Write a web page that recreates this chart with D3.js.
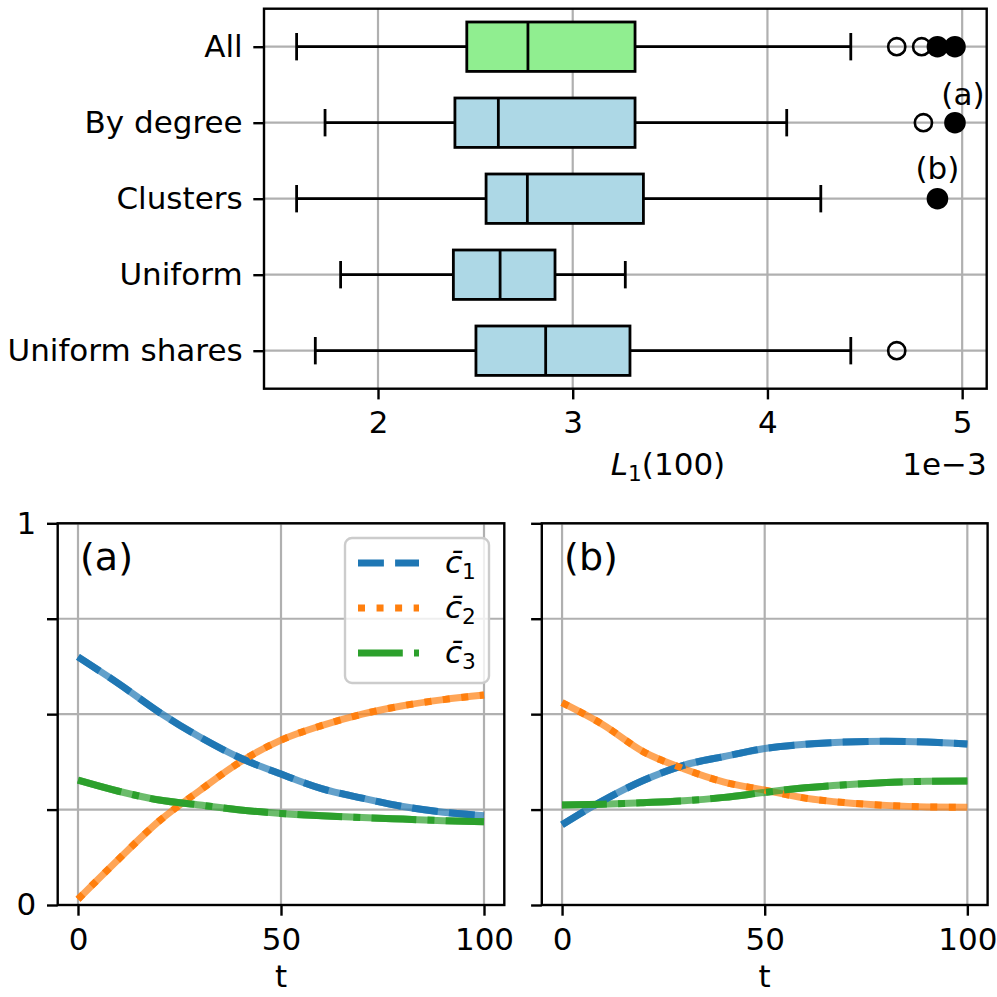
<!DOCTYPE html>
<html>
<head>
<meta charset="utf-8">
<script src="https://cdn.jsdelivr.net/npm/d3@7"></script>
<style>
  body { margin: 0; background: #fff; }
  svg { display: block; }
  text { font-family: "DejaVu Sans", sans-serif; }
</style>
</head>
<body>
<svg id="fig" width="997" height="997"></svg>
<script>
// ---- box plot data (L1(100)) ----
var categories = ["All", "By degree", "Clusters", "Uniform", "Uniform shares"];
var whiskerLo = [1.582e-3, 1.728e-3, 1.582e-3, 1.808e-3, 1.678e-3];
var q1        = [2.456e-3, 2.395e-3, 2.555e-3, 2.387e-3, 2.503e-3];
var medians   = [2.770e-3, 2.618e-3, 2.767e-3, 2.627e-3, 2.861e-3];
var q3        = [3.320e-3, 3.320e-3, 3.363e-3, 2.909e-3, 3.294e-3];
var whiskerHi = [4.428e-3, 4.099e-3, 4.274e-3, 3.270e-3, 4.428e-3];
var fliers    = [[4.664e-3, 4.792e-3], [4.801e-3], [], [], [4.664e-3]];
// the two highlighted runs, shown in "All" and in their own row
var runNames  = ["(a)", "(b)"];
var runValues = [4.963e-3, 4.873e-3];
var runRows   = [1, 2];
var boxTicks  = [2e-3, 3e-3, 4e-3, 5e-3];

// ---- time series (mean shares) ----
var tSteps = [0, 10, 20, 30, 40, 50, 60, 70, 80, 90, 100];
var a_c1 = [0.650, 0.580, 0.505, 0.440, 0.385, 0.343, 0.305, 0.280, 0.258, 0.243, 0.234];
var a_c2 = [0.015, 0.120, 0.220, 0.300, 0.375, 0.432, 0.470, 0.500, 0.522, 0.538, 0.550];
var a_c3 = [0.327, 0.298, 0.275, 0.262, 0.249, 0.240, 0.234, 0.229, 0.225, 0.221, 0.218];
var b_c1 = [0.210, 0.273, 0.326, 0.366, 0.389, 0.410, 0.421, 0.427, 0.429, 0.427, 0.422];
var b_c2 = [0.530, 0.473, 0.402, 0.357, 0.322, 0.301, 0.280, 0.268, 0.261, 0.257, 0.256];
var b_c3 = [0.262, 0.264, 0.268, 0.273, 0.282, 0.295, 0.307, 0.315, 0.321, 0.324, 0.325];
var tTicks = [0, 50, 100];
var shareTicks = [0, 0.25, 0.5, 0.75, 1];
var seriesNames = ["1", "2", "3"];

var colors = ["#1f77b4", "#ff7f0e", "#2ca02c"];
var dashes = ["25.9,11.2", "7,11.55", "44.8,11.2,7,11.2"];
var LW = 7, FS = 31, TICK = 10.7, GRID = "#b0b0b0";

var svg = d3.select("#fig");

function styleAxis(g) {
  g.select(".domain").remove();
  g.selectAll(".tick line").attr("stroke", "#000").attr("stroke-width", 2.4);
  g.selectAll(".tick text").attr("font-size", FS).attr("fill", "#000")
    .attr("font-family", "DejaVu Sans, sans-serif");
}

// ================= top: box plot =================
var B = {l: 264, r: 986.7, t: 8.7, b: 388.7};
var x0 = d3.scaleLinear().domain([1.4145e-3, 5.126e-3]).range([B.l, B.r]);
var y0 = d3.scaleLinear().domain([-0.5, 4.5]).range([B.t, B.b]);
var idx = d3.range(categories.length);
var boxG = svg.append("g");

// grid
boxG.selectAll(".vg").data(boxTicks).enter().append("line")
  .attr("x1", d => x0(d)).attr("x2", d => x0(d)).attr("y1", B.t).attr("y2", B.b)
  .attr("stroke", GRID).attr("stroke-width", 2.2);
boxG.selectAll(".hg").data(idx).enter().append("line")
  .attr("x1", B.l).attr("x2", B.r).attr("y1", d => y0(d)).attr("y2", d => y0(d))
  .attr("stroke", GRID).attr("stroke-width", 2.2);

var boxH = 0.65, capH = 0.18;
var bx = boxG.selectAll(".box").data(idx).enter().append("g");
// whiskers
bx.append("line").attr("x1", d => x0(whiskerLo[d])).attr("x2", d => x0(q1[d]))
  .attr("y1", d => y0(d)).attr("y2", d => y0(d));
bx.append("line").attr("x1", d => x0(q3[d])).attr("x2", d => x0(whiskerHi[d]))
  .attr("y1", d => y0(d)).attr("y2", d => y0(d));
// caps
bx.append("line").attr("x1", d => x0(whiskerLo[d])).attr("x2", d => x0(whiskerLo[d]))
  .attr("y1", d => y0(d - capH)).attr("y2", d => y0(d + capH));
bx.append("line").attr("x1", d => x0(whiskerHi[d])).attr("x2", d => x0(whiskerHi[d]))
  .attr("y1", d => y0(d - capH)).attr("y2", d => y0(d + capH));
// box
bx.append("rect")
  .attr("x", d => x0(q1[d])).attr("width", d => x0(q3[d]) - x0(q1[d]))
  .attr("y", d => y0(d - boxH / 2)).attr("height", d => y0(d + boxH / 2) - y0(d - boxH / 2))
  .attr("fill", d => d === 0 ? "#90ee90" : "#add8e6");
// median
bx.append("line").attr("x1", d => x0(medians[d])).attr("x2", d => x0(medians[d]))
  .attr("y1", d => y0(d - boxH / 2)).attr("y2", d => y0(d + boxH / 2));
bx.selectAll("line,rect").attr("stroke", "#000").attr("stroke-width", 2.8);

// fliers
idx.forEach(function (i) {
  boxG.selectAll(null).data(fliers[i]).enter().append("circle")
    .attr("cx", d => x0(d)).attr("cy", y0(i)).attr("r", 8.6)
    .attr("fill", "none").attr("stroke", "#000").attr("stroke-width", 2.6);
});
// highlighted runs
runValues.forEach(function (v, k) {
  boxG.append("circle").attr("cx", x0(v)).attr("cy", y0(0)).attr("r", 10.8).attr("fill", "#000");
  boxG.append("circle").attr("cx", x0(v)).attr("cy", y0(runRows[k])).attr("r", 10.8).attr("fill", "#000");
});
boxG.append("text").attr("x", x0(runValues[0]) + 8).attr("y", y0(runRows[0]) - 18)
  .attr("text-anchor", "middle").attr("font-size", FS).text(runNames[0]);
boxG.append("text").attr("x", x0(runValues[1])).attr("y", y0(runRows[1]) - 19.5)
  .attr("text-anchor", "middle").attr("font-size", FS).text(runNames[1]);

// axes
boxG.append("g").attr("transform", "translate(0," + B.b + ")")
  .call(d3.axisBottom(x0).tickValues(boxTicks).tickSize(TICK).tickPadding(12)
    .tickFormat(d => d3.format("d")(d * 1e3)))
  .call(styleAxis);
boxG.append("g").attr("transform", "translate(" + B.l + ",0)")
  .call(d3.axisLeft(y0).tickValues(idx).tickSize(TICK).tickPadding(10.7)
    .tickFormat(d => categories[d]))
  .call(styleAxis);
boxG.append("rect").attr("x", B.l).attr("y", B.t).attr("width", B.r - B.l).attr("height", B.b - B.t)
  .attr("fill", "none").attr("stroke", "#000").attr("stroke-width", 2.4);

var xl = boxG.append("text").attr("x", 668).attr("y", 475).attr("text-anchor", "middle").attr("font-size", FS);
xl.append("tspan").attr("font-style", "italic").text("L");
xl.append("tspan").attr("font-size", FS * 0.7).attr("dy", 6).text("1");
xl.append("tspan").attr("dy", -6).text("(100)");
boxG.append("text").attr("x", B.r).attr("y", 475).attr("text-anchor", "end").attr("font-size", FS)
  .text("1e\u22123");

// ================= bottom: time series =================
var panels = [
  {l: 57.7, r: 504.3, name: "(a)", data: [a_c1, a_c2, a_c3], yLabels: true, legend: true},
  {l: 541.8, r: 987.6, name: "(b)", data: [b_c1, b_c2, b_c3], yLabels: false, legend: false}
];
var PT = 523.3, PB = 905;
var y1 = d3.scaleLinear().domain([0, 1]).range([PB, PT]);

panels.forEach(function (p) {
  var x1 = d3.scaleLinear().domain([-5, 105]).range([p.l, p.r]);
  var g = svg.append("g");

  g.selectAll(".vg").data(tTicks).enter().append("line")
    .attr("x1", d => x1(d)).attr("x2", d => x1(d)).attr("y1", PT).attr("y2", PB)
    .attr("stroke", GRID).attr("stroke-width", 2.2);
  g.selectAll(".hg").data(shareTicks).enter().append("line")
    .attr("x1", p.l).attr("x2", p.r).attr("y1", d => y1(d)).attr("y2", d => y1(d))
    .attr("stroke", GRID).attr("stroke-width", 2.2);

  var line = d3.line().x((d, i) => x1(tSteps[i])).y(d => y1(d)).curve(d3.curveMonotoneX);
  p.data.forEach(function (s, k) {
    g.append("path").attr("d", line(s)).attr("fill", "none")
      .attr("stroke", colors[k]).attr("stroke-opacity", 0.7).attr("stroke-width", LW);
  });
  p.data.forEach(function (s, k) {
    g.append("path").attr("d", line(s)).attr("fill", "none")
      .attr("stroke", colors[k]).attr("stroke-width", LW)
      .attr("stroke-dasharray", dashes[k]).attr("stroke-linecap", "butt");
  });

  g.append("g").attr("transform", "translate(0," + PB + ")")
    .call(d3.axisBottom(x1).tickValues(tTicks).tickSize(TICK).tickPadding(12))
    .call(styleAxis);
  g.append("g").attr("transform", "translate(" + p.l + ",0)")
    .call(d3.axisLeft(y1).tickValues(shareTicks).tickSize(TICK).tickPadding(10.7)
      .tickFormat(d => p.yLabels && (d === 0 || d === 1) ? d3.format("d")(d) : ""))
    .call(styleAxis);
  g.append("rect").attr("x", p.l).attr("y", PT).attr("width", p.r - p.l).attr("height", PB - PT)
    .attr("fill", "none").attr("stroke", "#000").attr("stroke-width", 2.4);

  g.append("text").attr("x", p.l + 0.05 * (p.r - p.l)).attr("y", PT + 47)
    .attr("font-size", 38).text(p.name);
  g.append("text").attr("x", (p.l + p.r) / 2).attr("y", 987)
    .attr("text-anchor", "middle").attr("font-size", FS).text("t");

  if (p.legend) {
    var lg = g.append("g").attr("transform", "translate(345,538)");
    lg.append("rect").attr("width", 144).attr("height", 145).attr("rx", 7)
      .attr("fill", "#fff").attr("fill-opacity", 0.8)
      .attr("stroke", "#cccccc").attr("stroke-width", 2.4);
    seriesNames.forEach(function (n, k) {
      var yy = 25 + k * 45;
      lg.append("line").attr("x1", 13).attr("x2", 74).attr("y1", yy).attr("y2", yy)
        .attr("stroke", colors[k]).attr("stroke-width", LW)
        .attr("stroke-dasharray", dashes[k]);
      var t = lg.append("text").attr("x", 100).attr("y", yy + 10).attr("font-size", FS);
      t.append("tspan").attr("font-style", "italic").text("c\u0304");
      t.append("tspan").attr("font-size", FS * 0.7).attr("dy", 6).text(n);
    });
  }
});
</script>
</body>
</html>
